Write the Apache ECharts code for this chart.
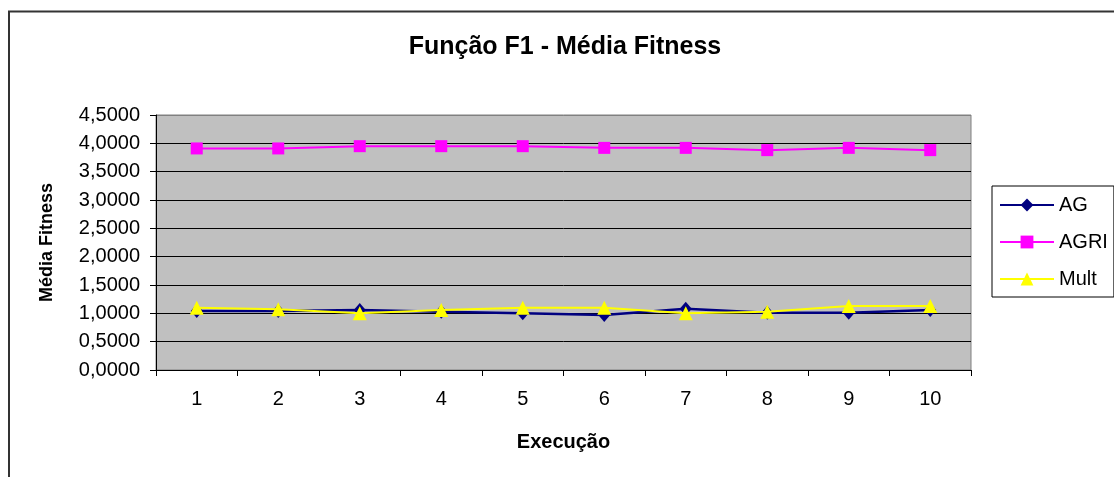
<!DOCTYPE html>
<html>
<head>
<meta charset="utf-8">
<title>Função F1 - Média Fitness</title>
<script src="https://cdn.jsdelivr.net/npm/echarts@6/dist/echarts.min.js"></script>
<style>
  html, body { margin: 0; padding: 0; background: #ffffff; }
  #chart { width: 1114px; height: 477px; }
</style>
</head>
<body>
<div id="chart"></div>
<script>
// Execution number (x axis categories)
const execucoes = ['1', '2', '3', '4', '5', '6', '7', '8', '9', '10'];

// Average fitness per execution for each algorithm
const serieAG    = [1.04, 1.04, 1.06, 1.03, 1.00, 0.97, 1.08, 1.01, 1.01, 1.06];
const serieAGRI  = [3.91, 3.91, 3.95, 3.95, 3.95, 3.92, 3.92, 3.88, 3.92, 3.88];
const serieMult  = [1.10, 1.07, 1.00, 1.06, 1.10, 1.10, 1.00, 1.03, 1.13, 1.13];

// Y axis tick labels, 0 to 4.5 in steps of 0.5 (Portuguese decimal comma)
const yTicks = ['0,0000', '0,5000', '1,0000', '1,5000', '2,0000',
                '2,5000', '3,0000', '3,5000', '4,0000', '4,5000'];

const FONT = "'Liberation Sans', Arial, Helvetica, sans-serif";

const chart = echarts.init(document.getElementById('chart'), null, { renderer: 'canvas' });

const option = {
  animation: false,
  backgroundColor: '#ffffff',
  textStyle: { fontFamily: FONT, color: '#000000' },
  title: {
    text: 'Função F1 - Média Fitness',
    left: 560,
    top: 30,
    textAlign: 'center',
    textStyle: { fontFamily: FONT, fontSize: 25, fontWeight: 'bold', color: '#000000' }
  },
  graphic: [{
    type: 'rect',
    silent: true,
    z: -1,
    shape: { x: 9, y: 11.5, width: 1200, height: 600 },
    style: { fill: 'none', stroke: '#333333', lineWidth: 2 }
  }],
  legend: {
    orient: 'vertical',
    left: 992,
    top: 186,
    padding: [9, 6, 8, 7],
    itemGap: 17,
    itemWidth: 54,
    itemHeight: 16,
    borderColor: '#000000',
    borderWidth: 1,
    backgroundColor: '#ffffff',
    textStyle: { fontFamily: FONT, fontSize: 20, color: '#000000', lineHeight: 20 },
    data: ['AG', 'AGRI', 'Mult']
  },
  grid: {
    left: 156,
    top: 115,
    width: 815,
    height: 255,
    show: true,
    backgroundColor: '#c0c0c0',
    borderColor: '#808080',
    borderWidth: 1,
    containLabel: false
  },
  xAxis: {
    type: 'category',
    data: execucoes,
    boundaryGap: true,
    name: 'Execução',
    nameLocation: 'middle',
    nameGap: 62,
    nameTextStyle: { fontFamily: FONT, fontSize: 20, fontWeight: 'bold', color: '#000000' },
    axisLine: { show: true, onZero: false, lineStyle: { color: '#000000', width: 1 } },
    axisTick: { show: true, inside: false, length: 6, interval: 0, alignWithLabel: false,
                lineStyle: { color: '#000000', width: 1 } },
    axisLabel: { fontFamily: FONT, fontSize: 20, color: '#000000', margin: 19, interval: 0 },
    splitLine: { show: false }
  },
  yAxis: {
    type: 'value',
    min: 0,
    max: 4.5,
    interval: 0.5,
    name: 'Média Fitness',
    nameLocation: 'middle',
    nameRotate: 90,
    nameGap: 100,
    nameTextStyle: { fontFamily: FONT, fontSize: 18, fontWeight: 'bold', color: '#000000' },
    axisLine: { show: true, lineStyle: { color: '#000000', width: 1 } },
    axisTick: { show: true, inside: false, length: 6, lineStyle: { color: '#000000', width: 1 } },
    axisLabel: {
      fontFamily: FONT, fontSize: 20, color: '#000000', margin: 16,
      formatter: (v) => yTicks[Math.round(v / 0.5)]
    },
    splitLine: {
      show: true,
      lineStyle: {
        color: ['#000000', '#000000', '#000000', '#000000', '#000000',
                '#000000', '#000000', '#000000', '#000000', '#808080'],
        width: 1
      }
    }
  },
  series: [
    {
      name: 'AG',
      type: 'line',
      data: serieAG,
      symbol: 'diamond',
      symbolSize: [12, 14],
      showAllSymbol: true,
      lineStyle: { color: '#000080', width: 2.5 },
      itemStyle: { color: '#000080' },
      z: 2
    },
    {
      name: 'AGRI',
      type: 'line',
      data: serieAGRI,
      symbol: 'rect',
      symbolSize: 12,
      showAllSymbol: true,
      lineStyle: { color: '#ff00ff', width: 2 },
      itemStyle: { color: '#ff00ff' },
      z: 3
    },
    {
      name: 'Mult',
      type: 'line',
      data: serieMult,
      symbol: 'triangle',
      symbolSize: [14, 14],
      showAllSymbol: true,
      lineStyle: { color: '#ffff00', width: 2 },
      itemStyle: { color: '#ffff00' },
      z: 4
    }
  ]
};

chart.setOption(option);
</script>
</body>
</html>
